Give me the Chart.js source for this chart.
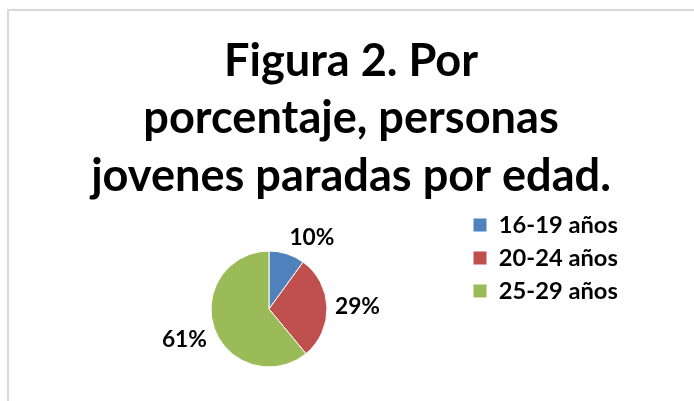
<!DOCTYPE html>
<html>
<head>
<meta charset="utf-8">
<script src="https://cdn.jsdelivr.net/npm/chart.js@4.4.1/dist/chart.umd.min.js"></script>
<style>
  html, body { margin: 0; padding: 0; background: #fff; overflow: hidden; }
  #frame { position: absolute; left: 7px; top: 9px; width: 760px; height: 460px;
           border-left: 2px solid #d9d9d9; border-top: 2px solid #d9d9d9; }
  #c { position: absolute; left: 0; top: 0; }
</style>
</head>
<body>
<div id="frame"></div>
<canvas id="c" width="694" height="420"></canvas>
<script>
// ---- data ----
const titleLines = ['Figura 2. Por', 'porcentaje, personas', 'jovenes paradas por edad.'];
const categories = ['16-19 años', '20-24 años', '25-29 años'];
const shares = [10, 29, 61];
const sliceColors = ['#4F81BD', '#C0504D', '#9BBB59'];

// ---- fonts sized from the reference text widths ----
const FONT = 'Lato, "Open Sans", sans-serif';
const mctx = document.createElement('canvas').getContext('2d');
function measure(text, size) { mctx.font = `bold ${size}px ${FONT}`; return mctx.measureText(text).width; }
function fitSize(text, width) { return 100 * width / measure(text, 100); }
const titleSize = fitSize(titleLines[2], 520);
const legendSize = fitSize(categories[0], 119);
const labelSize = fitSize('61%', 45);

// ---- layout ----
const W = 694, H = 420;
const pieCx = 269, pieCy = 309, pieR = 58;
const legBoxX = 473, legRow1 = 225, legRowGap = 33;
const legPad = legRowGap - legendSize;
const legTextW = Math.max(...categories.map(t => measure(t, legendSize)));
const legW = legPad + 14 + legendSize / 2 + legTextW + 10;
const padR = W - legW - legBoxX + legPad;
const legLeft = W - padR - legW;
const padL = 2 * pieCx - legLeft;
const chartTop = legRow1 - legPad - legendSize / 2;
const chartBottom = 2 * pieCy - chartTop;
const padB = H - chartBottom;
const titleLH = 57.5;
const titleFirstMid = 61;
const titlePadTop = titleFirstMid - titleLH / 2;
const titlePadBottom = chartTop - titlePadTop - titleLH * titleLines.length;

const sliceLabels = {
  id: 'sliceLabels',
  afterDatasetsDraw(chart) {
    const ctx = chart.ctx;
    const meta = chart.getDatasetMeta(0);
    const data = chart.data.datasets[0].data;
    const total = data.reduce((a, b) => a + b, 0);
    ctx.save();
    ctx.font = `bold ${labelSize}px ${FONT}`;
    ctx.fillStyle = '#000';
    ctx.textAlign = 'center';
    ctx.textBaseline = 'middle';
    meta.data.forEach((arc, i) => {
      const p = arc.getProps(['x', 'y', 'startAngle', 'endAngle', 'outerRadius'], true);
      const mid = (p.startAngle + p.endAngle) / 2;
      const txt = Math.round(data[i] / total * 100) + '%';
      const w = ctx.measureText(txt).width, h = labelSize * 0.75;
      const cos = Math.cos(mid), sin = Math.sin(mid);
      const d = p.outerRadius + 8;
      const ax = p.x + cos * d, ay = p.y + sin * d;
      const dx = Math.abs(cos) > 0.2 ? Math.sign(cos) * w / 2 : cos * w / 2;
      const dy = Math.abs(sin) > 0.2 ? Math.sign(sin) * h / 2 : sin * h / 2;
      ctx.fillText(txt, ax + dx, ay + dy);
    });
    ctx.restore();
  }
};

new Chart(document.getElementById('c'), {
  type: 'pie',
  data: {
    labels: categories,
    datasets: [{
      data: shares,
      backgroundColor: sliceColors,
      borderColor: '#ffffff',
      borderWidth: 1,
      radius: pieR
    }]
  },
  options: {
    responsive: false,
    animation: false,
    events: [],
    layout: { padding: { left: padL, right: padR, top: 0, bottom: padB } },
    plugins: {
      tooltip: { enabled: false },
      title: {
        display: true,
        text: titleLines,
        color: '#000',
        font: { family: FONT, weight: 'bold', size: titleSize, lineHeight: titleLH + 'px' },
        padding: { top: titlePadTop, bottom: titlePadBottom }
      },
      legend: {
        display: true,
        position: 'right',
        align: 'start',
        fullSize: false,
        labels: {
          color: '#000',
          font: { family: FONT, weight: 'bold', size: legendSize },
          boxWidth: 14,
          boxHeight: 14,
          padding: legPad
        }
      }
    }
  },
  plugins: [sliceLabels]
});
</script>
</body>
</html>
